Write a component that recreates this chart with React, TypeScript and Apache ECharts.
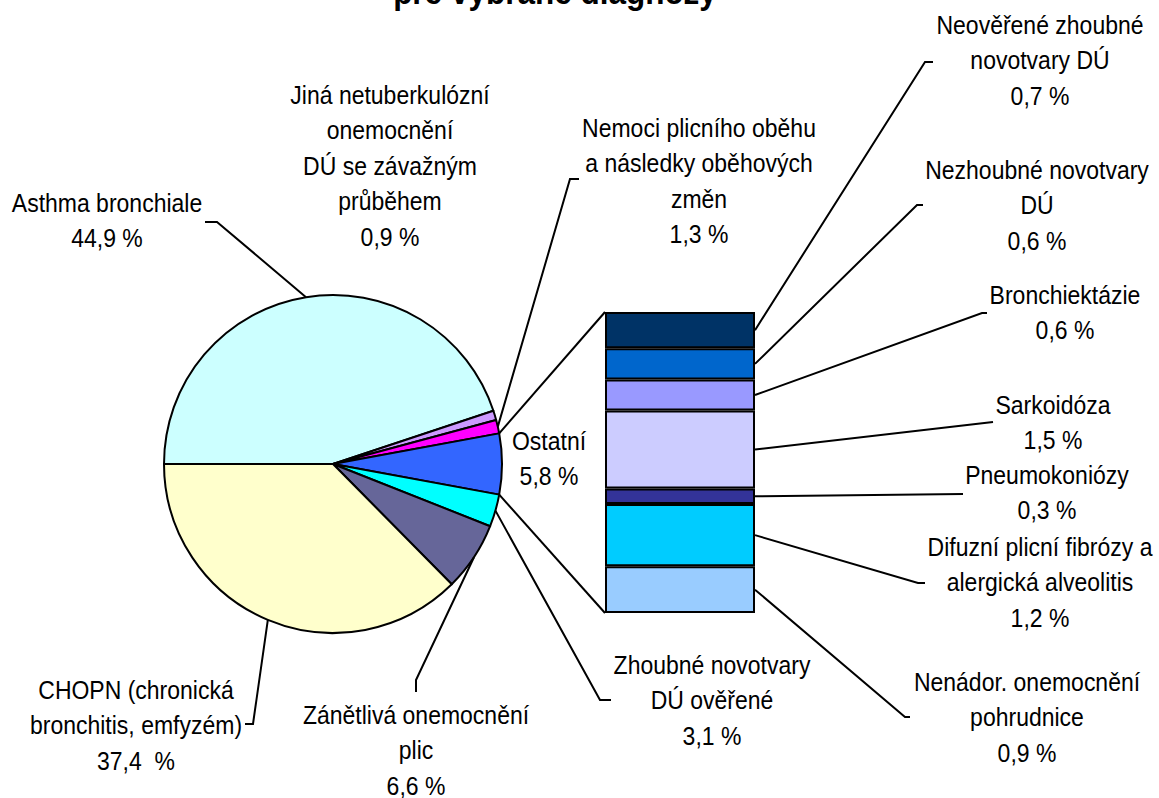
import React, { useEffect, useRef } from "react";
import * as echarts from "echarts";

// ---------- data ----------
const titleText = "pre vybrané diagnózy";

const pieNames = [
  "Asthma bronchiale",
  "Jiná netuberkulózní onemocnění DÚ se závažným průběhem",
  "Nemoci plicního oběhu a následky oběhových změn",
  "Ostatní",
  "Zhoubné novotvary DÚ ověřené",
  "Zánětlivá onemocnění plic",
  "CHOPN (chronická bronchitis, emfyzém)",
];
const pieLabelLines = [
  ["Asthma bronchiale"],
  ["Jiná netuberkulózní", "onemocnění", "DÚ se závažným", "průběhem"],
  ["Nemoci plicního oběhu", "a následky oběhových", "změn"],
  ["Ostatní"],
  ["Zhoubné novotvary", "DÚ ověřené"],
  ["Zánětlivá onemocnění", "plic"],
  ["CHOPN (chronická", "bronchitis, emfyzém)"],
];
const pieValues = [44.9, 0.9, 1.3, 5.8, 3.1, 6.6, 37.4];
const pieUnits = [" %", " %", " %", " %", " %", " %", "  %"];
const pieColors = ["#CCFFFF", "#CC99FF", "#FF00FF", "#3366FF", "#00FFFF", "#666699", "#FFFFCC"];

const barCategory = ["Ostatní"];
const barNames = [
  "Neověřené zhoubné novotvary DÚ",
  "Nezhoubné novotvary DÚ",
  "Bronchiektázie",
  "Sarkoidóza",
  "Pneumokoniózy",
  "Difuzní plicní fibrózy a alergická alveolitis",
  "Nenádor. onemocnění pohrudnice",
];
const barLabelLines = [
  ["Neověřené zhoubné", "novotvary DÚ"],
  ["Nezhoubné novotvary", "DÚ"],
  ["Bronchiektázie"],
  ["Sarkoidóza"],
  ["Pneumokoniózy"],
  ["Difuzní plicní fibrózy a", "alergická alveolitis"],
  ["Nenádor. onemocnění", "pohrudnice"],
];
const barValues = [0.7, 0.6, 0.6, 1.5, 0.3, 1.2, 0.9];
const barColors = ["#003366", "#0066CC", "#9999FF", "#CCCCFF", "#333399", "#00CCFF", "#99CCFF"];

// ---------- layout ----------
const PIE_CX = 333;
const PIE_CY = 464;
const PIE_R = 169;
const GRID = { left: 605, top: 312, width: 150, height: 301 };
const FONT = '"Liberation Sans", Arial, Helvetica, sans-serif';
const FS = 23;
const SY = 1.09;
const LINE = 35.5;

const pieLabelPos = [[107, 203], [390, 95], [699, 128], [549, 441], [712, 665], [416, 715], [136, 690]];
const pieLeaderBends: (number[][] | null)[] = [
  [[217, 222], [205, 222]],
  null,
  [[570, 179], [579, 179]],
  null,
  [[600, 700], [611, 700]],
  [[416, 680], [416, 692]],
  [[253, 724], [245, 724]],
];
const barLabelPos = [[1040, 25], [1037, 170], [1065, 295], [1053, 405], [1047, 475], [1040, 547], [1027, 682]];
const barLeaderBends = [
  [[925, 62], [933, 62]],
  [[917, 205], [923, 205]],
  [[982, 313], [987, 313]],
  [[993, 422]],
  [[963, 494]],
  [[918, 583], [925, 583]],
  [[905, 717], [910, 717]],
];

const fmt = (v: number, unit: string) => v.toFixed(1).replace(".", ",") + unit;

function labelText(x: number, firstY: number, text: string) {
  return {
    type: "text",
    x,
    y: firstY - LINE / 2,
    scaleX: 1,
    scaleY: SY,
    silent: true,
    z: 10,
    style: {
      text,
      fill: "#000",
      fontSize: FS,
      fontFamily: FONT,
      align: "center",
      verticalAlign: "top",
      lineHeight: LINE / SY,
    },
  };
}

function polyline(points: number[][]) {
  return {
    type: "polyline",
    silent: true,
    z: 5,
    shape: { points },
    style: { stroke: "#000", lineWidth: 2, fill: null, lineJoin: "miter" },
  };
}

export default function App() {
  const ref = useRef<HTMLDivElement>(null);

  useEffect(() => {
    if (!ref.current) return;
    const chart = echarts.init(ref.current, null, { renderer: "svg" });
    const barTotal = barValues.reduce((a, b) => a + b, 0);
    const pieTotal = pieValues.reduce((a, b) => a + b, 0);

    chart.setOption({
      animation: false,
      backgroundColor: "#fff",
      grid: { left: GRID.left, top: GRID.top, width: GRID.width, height: GRID.height, containLabel: false },
      xAxis: { type: "category", data: barCategory, show: false },
      yAxis: { type: "value", min: 0, max: barTotal, inverse: true, show: false, splitLine: { show: false } },
      series: [
        {
          type: "pie",
          center: [PIE_CX, PIE_CY],
          radius: PIE_R,
          startAngle: 180,
          clockwise: true,
          label: { show: false },
          labelLine: { show: false },
          emphasis: { disabled: true },
          itemStyle: { borderColor: "#000", borderWidth: 2 },
          data: pieNames.map((n, i) => ({ name: n, value: pieValues[i], itemStyle: { color: pieColors[i] } })),
        },
        ...barNames.map((n, i) => ({
          type: "bar",
          name: n,
          stack: "ostatni",
          barWidth: "100%",
          emphasis: { disabled: true },
          itemStyle: { color: barColors[i], borderColor: "#000", borderWidth: 2 },
          data: [barValues[i]],
        })),
      ],
    });

    const yPix = (v: number) => chart.convertToPixel({ yAxisIndex: 0 }, v) as number;
    const barRight = GRID.left + GRID.width;
    const piePoint = (frac: number) => {
      const th = ((180 - 360 * frac) * Math.PI) / 180;
      return [PIE_CX + PIE_R * Math.cos(th), PIE_CY - PIE_R * Math.sin(th)];
    };

    const graphics: any[] = [];
    graphics.push({
      type: "text",
      x: 555,
      y: -8,
      scaleY: SY,
      silent: true,
      style: {
        text: titleText,
        fill: "#000",
        fontSize: 31.5,
        fontWeight: "bold",
        fontFamily: FONT,
        align: "center",
        verticalAlign: "middle",
      },
    });

    // pie labels + leaders
    let cum = 0;
    pieValues.forEach((v, i) => {
      const mid = (cum + v / 2) / pieTotal;
      const start = piePoint(mid);
      const bends = pieLeaderBends[i];
      if (bends) graphics.push(polyline([start, ...bends]));
      const [lx, ly] = pieLabelPos[i];
      graphics.push(labelText(lx, ly, pieLabelLines[i].join("\n") + "\n" + fmt(v, pieUnits[i])));
      cum += v;
    });

    // connectors from "Ostatní" slice to bar
    const oIdx = 3;
    const before = pieValues.slice(0, oIdx).reduce((a, b) => a + b, 0);
    const pTop = piePoint(before / pieTotal);
    const pBot = piePoint((before + pieValues[oIdx]) / pieTotal);
    graphics.push(polyline([pTop, [GRID.left, yPix(0)]]));
    graphics.push(polyline([pBot, [GRID.left, yPix(barTotal)]]));

    // bar labels + leaders
    let bc = 0;
    barValues.forEach((v, i) => {
      const y = yPix(bc + v / 2);
      graphics.push(polyline([[barRight, y], ...barLeaderBends[i]]));
      const [lx, ly] = barLabelPos[i];
      graphics.push(labelText(lx, ly, barLabelLines[i].join("\n") + "\n" + fmt(v, " %")));
      bc += v;
    });

    chart.setOption({ graphic: graphics });

    return () => chart.dispose();
  }, []);

  return (
    <div
      ref={ref}
      style={{ position: "fixed", left: 0, top: 0, width: 1159, height: 798, background: "#fff" }}
    />
  );
}
